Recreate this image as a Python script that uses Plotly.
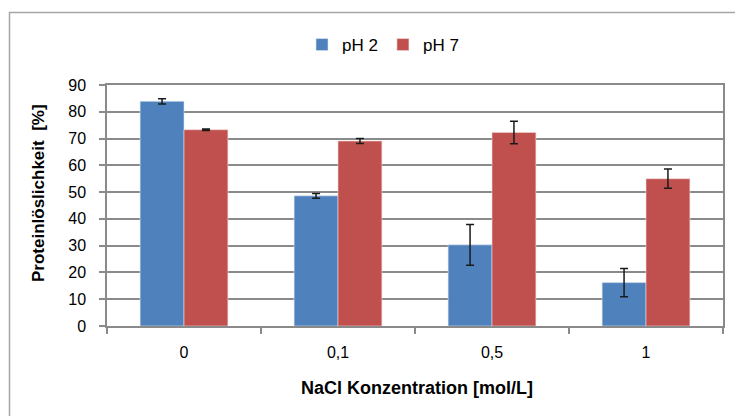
import plotly.graph_objects as go

categories = ["0", "0,1", "0,5", "1"]
ph2_values = [83.9, 48.6, 30.3, 16.2]
ph2_errors = [1.0, 0.9, 7.6, 5.3]
ph7_values = [73.3, 69.1, 72.3, 55.0]
ph7_errors = [0.3, 0.9, 4.2, 3.6]
y_ticks = [0, 10, 20, 30, 40, 50, 60, 70, 80, 90]

FONT = "Liberation Sans"
GRID = "#8a8a8a"

fig = go.Figure()
fig.add_trace(go.Bar(
    x=categories, y=ph2_values, name="pH 2",
    marker=dict(color="#4F81BD", line=dict(color="#dbe4f0", width=0.6)),
    error_y=dict(type="data", array=ph2_errors, visible=True,
                 color="#1a1a1a", thickness=1.5, width=4),
))
fig.add_trace(go.Bar(
    x=categories, y=ph7_values, name="pH 7",
    marker=dict(color="#C0504D", line=dict(color="#f0dada", width=0.6)),
    error_y=dict(type="data", array=ph7_errors, visible=True,
                 color="#1a1a1a", thickness=1.5, width=4),
))

L, R, T, B = 107, 12, 85, 90
W, H = 735, 416
pw, ph = W - L - R, H - T - B

def px_x(px):
    return (px - L) / pw

def px_y(py):
    return (H - B - py) / ph

fig.update_layout(
    width=W, height=H,
    margin=dict(l=L, r=R, t=T, b=B, autoexpand=False),
    paper_bgcolor="white", plot_bgcolor="white",
    barmode="group", bargap=0.43, bargroupgap=0,
    font=dict(family=FONT, size=15, color="#000000"),
    showlegend=True,
    legend=dict(orientation="h", x=px_x(302), y=px_y(45), xanchor="left", yanchor="middle",
                font=dict(family=FONT, size=17), itemwidth=30, traceorder="normal",
                bgcolor="rgba(0,0,0,0)"),
    xaxis=dict(
        type="category", showgrid=False,
        showline=True, linecolor=GRID, linewidth=1.5, mirror=True,
        ticks="outside", tickson="boundaries", ticklen=6, tickcolor=GRID, tickwidth=1.5,
        tickfont=dict(family=FONT, size=16), ticklabelstandoff=11,
    ),
    yaxis=dict(
        range=[0, 90], tickvals=y_ticks, showgrid=True, gridcolor=GRID, gridwidth=1.5,
        showline=True, linecolor=GRID, linewidth=1.5, mirror=True, zeroline=False,
        ticks="outside", ticklen=6, tickcolor=GRID, tickwidth=1.5,
        tickfont=dict(family=FONT, size=16), ticklabelstandoff=10,
    ),
    annotations=[
        dict(text="<b>NaCl Konzentration [mol/L]</b>", xref="paper", yref="paper",
             x=px_x(417), y=px_y(388), xanchor="center", yanchor="middle", showarrow=False,
             font=dict(family=FONT, size=18)),
        dict(text="<b>Proteinlöslichkeit  [%]</b>", xref="paper", yref="paper",
             x=px_x(38), y=px_y(193), xanchor="center", yanchor="middle", showarrow=False,
             textangle=-90, font=dict(family=FONT, size=17)),
    ],
    shapes=[dict(type="rect", xref="paper", yref="paper",
                 x0=px_x(9.5), y0=px_y(430), x1=px_x(750), y1=px_y(12.5),
                 line=dict(color="#a6a6a6", width=1.5), fillcolor="rgba(0,0,0,0)", layer="below")],
)

fig.write_html("out.html", config={"displayModeBar": False},
               post_script="document.body.style.margin='0';document.body.style.overflow='hidden';")
